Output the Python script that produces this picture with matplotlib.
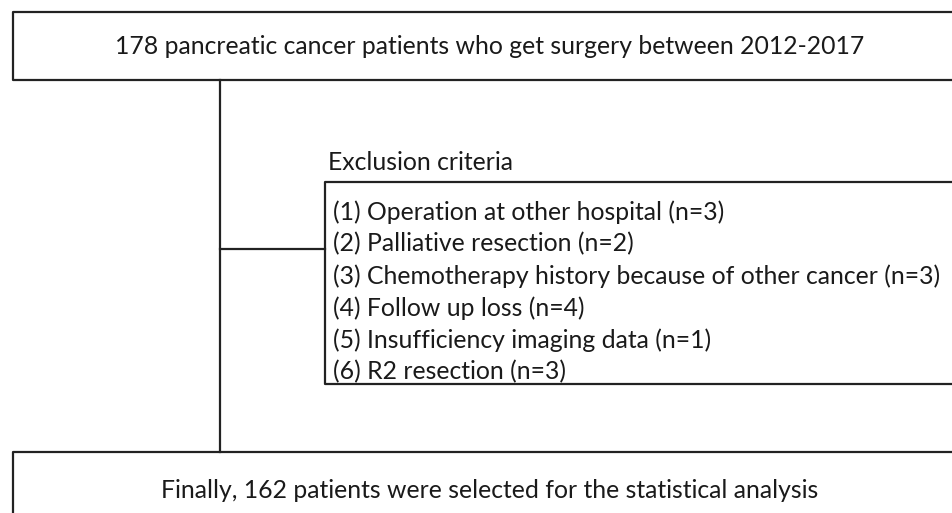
import matplotlib.pyplot as plt

top_text = '178 pancreatic cancer patients who get surgery between 2012-2017'
bottom_text = 'Finally, 162 patients were selected for the statistical analysis'
excl_title = 'Exclusion criteria'
excl_reasons = ['Operation at other hospital', 'Palliative resection',
                'Chemotherapy history because of other cancer', 'Follow up loss',
                'Insufficiency imaging data', 'R2 resection']
excl_counts = [3, 2, 3, 4, 1, 3]

plt.rcParams['font.family'] = ['Lato', 'DejaVu Sans']
fig = plt.figure(figsize=(9.53, 5.13), dpi=100)
ax = fig.add_axes([0, 0, 1, 1])
ax.set_xlim(0, 953)
ax.set_ylim(513, 0)
ax.axis('off')

lc = '#222222'
lw = 1.6
fs = 17.8
tc = '#1a1a1a'

# top box (right edge runs off the picture)
ax.plot([960, 13, 13, 960], [12, 12, 80, 80], color=lc, lw=lw)
ax.text(490, 46, top_text, ha='center', va='center', fontsize=fs, color=tc)

# trunk and branch
ax.plot([220, 220], [80, 452], color=lc, lw=lw)
ax.plot([220, 325], [249, 249], color=lc, lw=lw)

# exclusion box
ax.plot([960, 325, 325, 960], [182, 182, 384, 384], color=lc, lw=lw)
ax.text(328, 163, excl_title, ha='left', va='center', fontsize=fs, color=tc)
for i, (r, n) in enumerate(zip(excl_reasons, excl_counts)):
    ax.text(333, 212 + i * 32, f'({i + 1}) {r} (n={n})', ha='left', va='center',
            fontsize=fs, color=tc)

# bottom box
ax.plot([13, 13, 960], [520, 452, 452], color=lc, lw=lw)
ax.text(490, 490, bottom_text, ha='center', va='center', fontsize=fs, color=tc)

fig.savefig('out.png', dpi=100, facecolor='white')
